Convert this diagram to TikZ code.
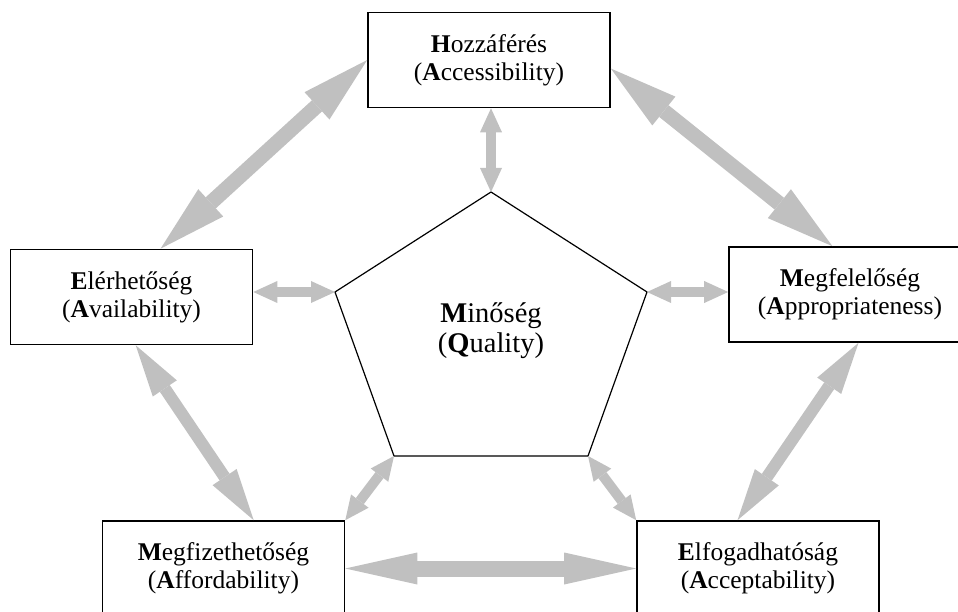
\documentclass[tikz,border=0pt]{standalone}
\usepackage{fontspec}
\setmainfont{Liberation Serif}
\usetikzlibrary{arrows.meta}
\definecolor{arrowgray}{RGB}{192,192,192}
\tikzset{
  box/.style={draw,line width=1.6pt,minimum width=242pt,minimum height=95pt,
    align=center,font=\fontsize{25.5}{28}\selectfont},
  bigarrow/.style={draw=arrowgray,line width=15pt,
    >={Triangle[length=68pt,width=37pt,line width=0pt]},<->},
  sidearrow/.style={draw=arrowgray,line width=12pt,
    >={Triangle[length=52pt,width=29pt,line width=0pt]},<->},
  basearrow/.style={draw=arrowgray,line width=16pt,
    >={Triangle[length=72pt,width=32pt,line width=0pt]},<->},
  smallarrow/.style={draw=arrowgray,line width=10pt,
    >={Triangle[length=24pt,width=22pt,line width=0pt]},<->}
}
\begin{document}
\begin{tikzpicture}[x=1pt,y=-1pt]
\useasboundingbox(0,0)rectangle(958,612);
\clip(0,0)rectangle(958,612);
%outer boxes
\node[box](acc)at(489,60){\textbf{H}ozzáférés\\(\textbf{A}ccessibility)};
\node[box](ava)at(131.5,297){\textbf{E}lérhetőség\\(\textbf{A}vailability)};
\node[box](app)at(850,294.5){\textbf{M}egfelelőség\\(\textbf{A}ppropriateness)};
\node[box](aff)at(223.5,568.5){\textbf{M}egfizethetőség\\(\textbf{A}ffordability)};
\node[box](acp)at(758,568.5){\textbf{E}lfogadhatóság\\(\textbf{A}cceptability)};
%quality pentagon
\coordinate(p1)at(491,192);
\coordinate(p2)at(647,292);
\coordinate(p3)at(588,456);
\coordinate(p4)at(394,456);
\coordinate(p5)at(335,292);
\draw[line width=1.2pt](p1)--(p2)--(p3)--(p4)--(p5)--cycle;
\node[align=center,font=\fontsize{28.5}{30}\selectfont](qual)at(491,331){\textbf{M}inőség\\(\textbf{Q}uality)};
%arrows between boxes
\draw[bigarrow](acc.west)--(ava.59);
\draw[bigarrow](acc.-4)--(app.110);
\draw[sidearrow](ava.275)--(aff.58);
\draw[sidearrow](app.280)--(acp.113);
\draw[basearrow](aff.east)--(acp.west);
%arrows to the pentagon
\draw[smallarrow](p1|-acc.south)--(p1);
\draw[smallarrow](ava.east|-p5)--(p5);
\draw[smallarrow](p2)--(app.west|-p2);
\draw[smallarrow](p4)--(aff.north east);
\draw[smallarrow](p3)--(acp.north west);
\end{tikzpicture}
\end{document}
